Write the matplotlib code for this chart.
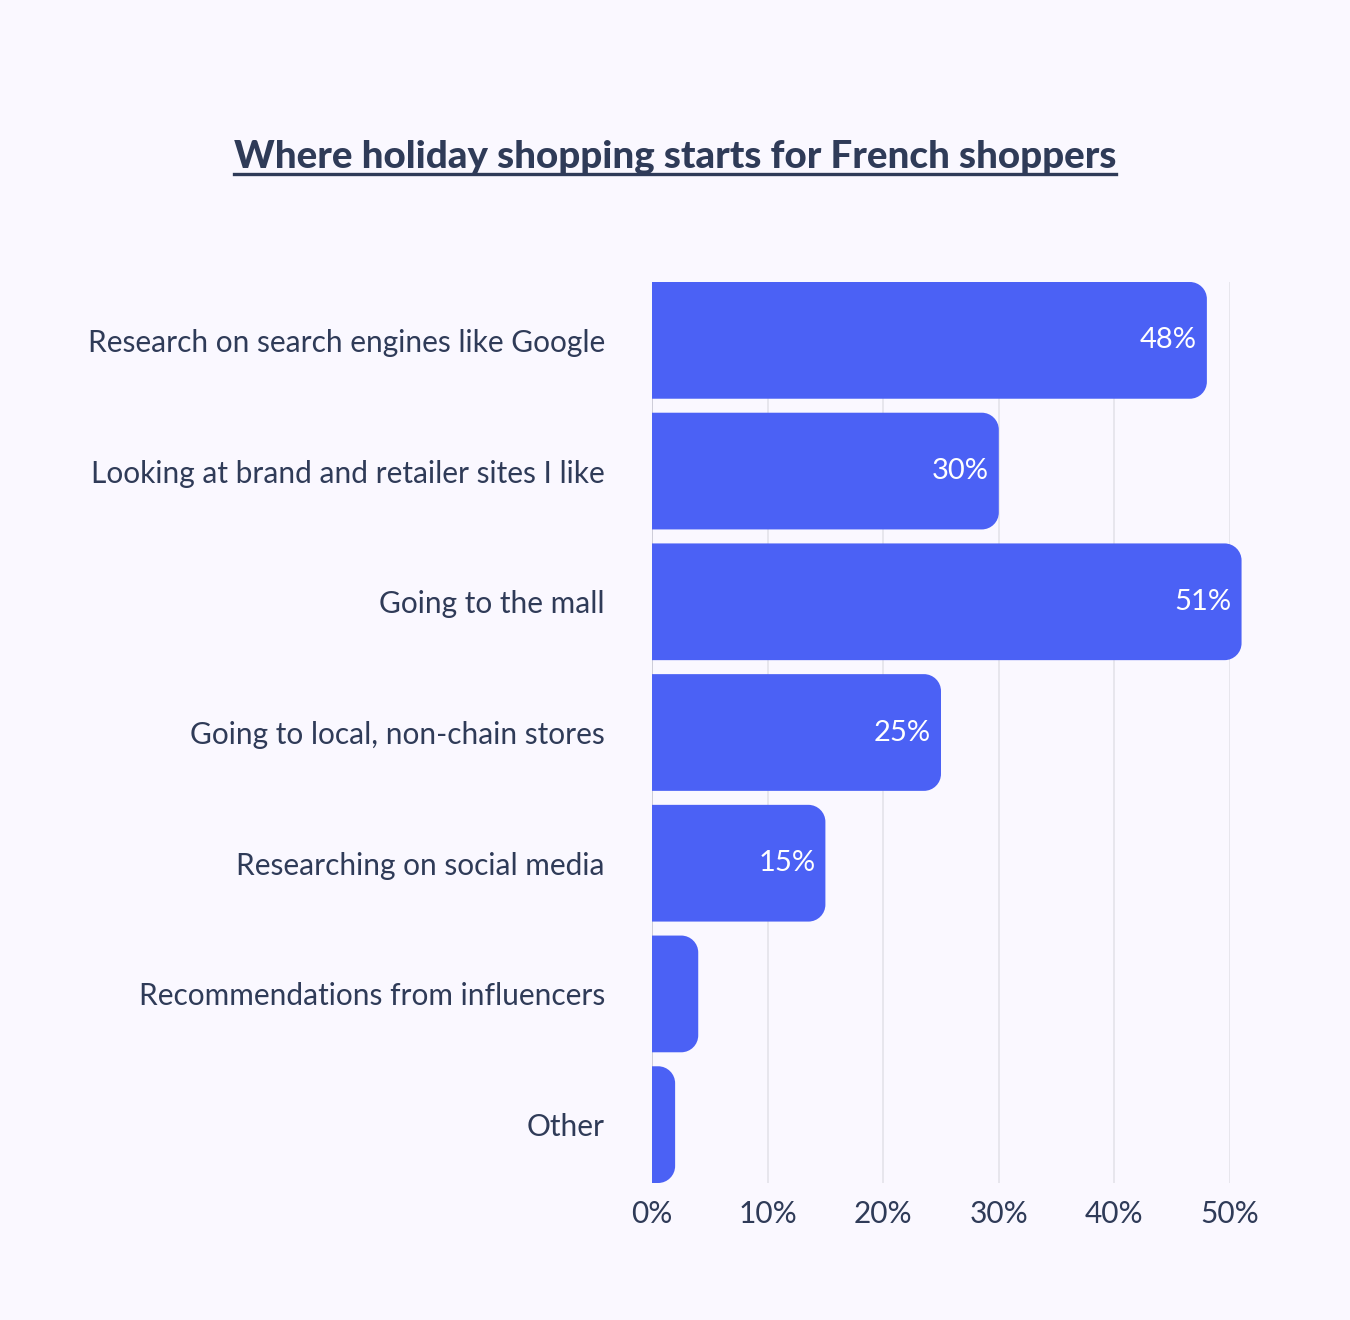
import numpy as np
import matplotlib.pyplot as plt
from matplotlib.path import Path
from matplotlib.patches import PathPatch

# data
categories = ["Research on search engines like Google",
              "Looking at brand and retailer sites I like",
              "Going to the mall",
              "Going to local, non-chain stores",
              "Researching on social media",
              "Recommendations from influencers",
              "Other"]
values = [48, 30, 51, 25, 15, 4, 2]
value_labels = ["48%", "30%", "51%", "25%", "15%", "", ""]
xticks = [0, 10, 20, 30, 40, 50]
xtick_labels = ["0%", "10%", "20%", "30%", "40%", "50%"]

bg = "#FAF8FF"
bar_col = "#4B61F5"
txt_col = "#2F3B58"
plt.rcParams['font.family'] = ['Lato', 'DejaVu Sans']

W, H = 1350, 1320
fig = plt.figure(figsize=(W / 100, H / 100), dpi=100, facecolor=bg)
ax = fig.add_axes([652 / W, 1 - 1183 / H, (1230 - 652) / W, (1183 - 282) / H])
ax.set_facecolor(bg)

bar_h = 0.893
ypos = np.arange(len(categories))
ax.set_xlim(0, 50)
ax.set_ylim(len(categories) - 1 + bar_h / 2, -bar_h / 2)

bars = ax.barh(ypos, values, height=bar_h, color=bar_col, clip_on=False, zorder=3)

# px per data unit, used to keep the corner radius round
ppx = (1230 - 652) / 50
ppy = (1183 - 282) / (len(categories) - 1 + bar_h)
r_px = 17
k = 0.5523

for b in bars:
    b.set_visible(False)
    x0, y0 = b.get_x(), b.get_y()
    w, h = b.get_width(), b.get_height()
    rx = min(r_px / ppx, w)
    ry = r_px / ppy
    x1, y1 = x0 + w, y0 + h
    verts = [(x0, y0), (x1 - rx, y0),
             (x1 - rx + k * rx, y0), (x1, y0 + ry - k * ry), (x1, y0 + ry),
             (x1, y1 - ry),
             (x1, y1 - ry + k * ry), (x1 - rx + k * rx, y1), (x1 - rx, y1),
             (x0, y1), (x0, y0)]
    codes = [Path.MOVETO, Path.LINETO,
             Path.CURVE4, Path.CURVE4, Path.CURVE4,
             Path.LINETO,
             Path.CURVE4, Path.CURVE4, Path.CURVE4,
             Path.LINETO, Path.CLOSEPOLY]
    ax.add_patch(PathPatch(Path(verts, codes), facecolor=bar_col, edgecolor='none',
                           clip_on=False, zorder=3))

for yv, v, lab in zip(ypos, values, value_labels):
    if lab:
        ax.text(v - 0.85, yv, lab, ha='right', va='center', color='white',
                fontsize=21, zorder=4)

ax.set_yticks(ypos)
ax.set_yticklabels(categories, fontsize=21.5, color=txt_col)
ax.set_xticks(xticks)
ax.set_xticklabels(xtick_labels, fontsize=21.5, color=txt_col)
ax.tick_params(axis='y', length=0, pad=34)
ax.tick_params(axis='x', length=0, pad=12)
ax.grid(axis='x', color='#E4E3EA', linewidth=1.2, zorder=0)
for s in ax.spines.values():
    s.set_visible(False)
ax.axvline(0, color='#C9C9D6', linewidth=1.2, zorder=2)

title = fig.text(0.5, 1 - 157 / H, "Where holiday shopping starts for French shoppers",
                 ha='center', va='center', fontsize=27.7, fontweight='black', color=txt_col)
fig.canvas.draw()
bb = title.get_window_extent().transformed(fig.transFigure.inverted())
fig.add_artist(plt.Line2D([bb.x0, bb.x1], [1 - 174 / H, 1 - 174 / H],
                          color=txt_col, linewidth=2.4))

fig.savefig("out.png", dpi=100, facecolor=bg)
